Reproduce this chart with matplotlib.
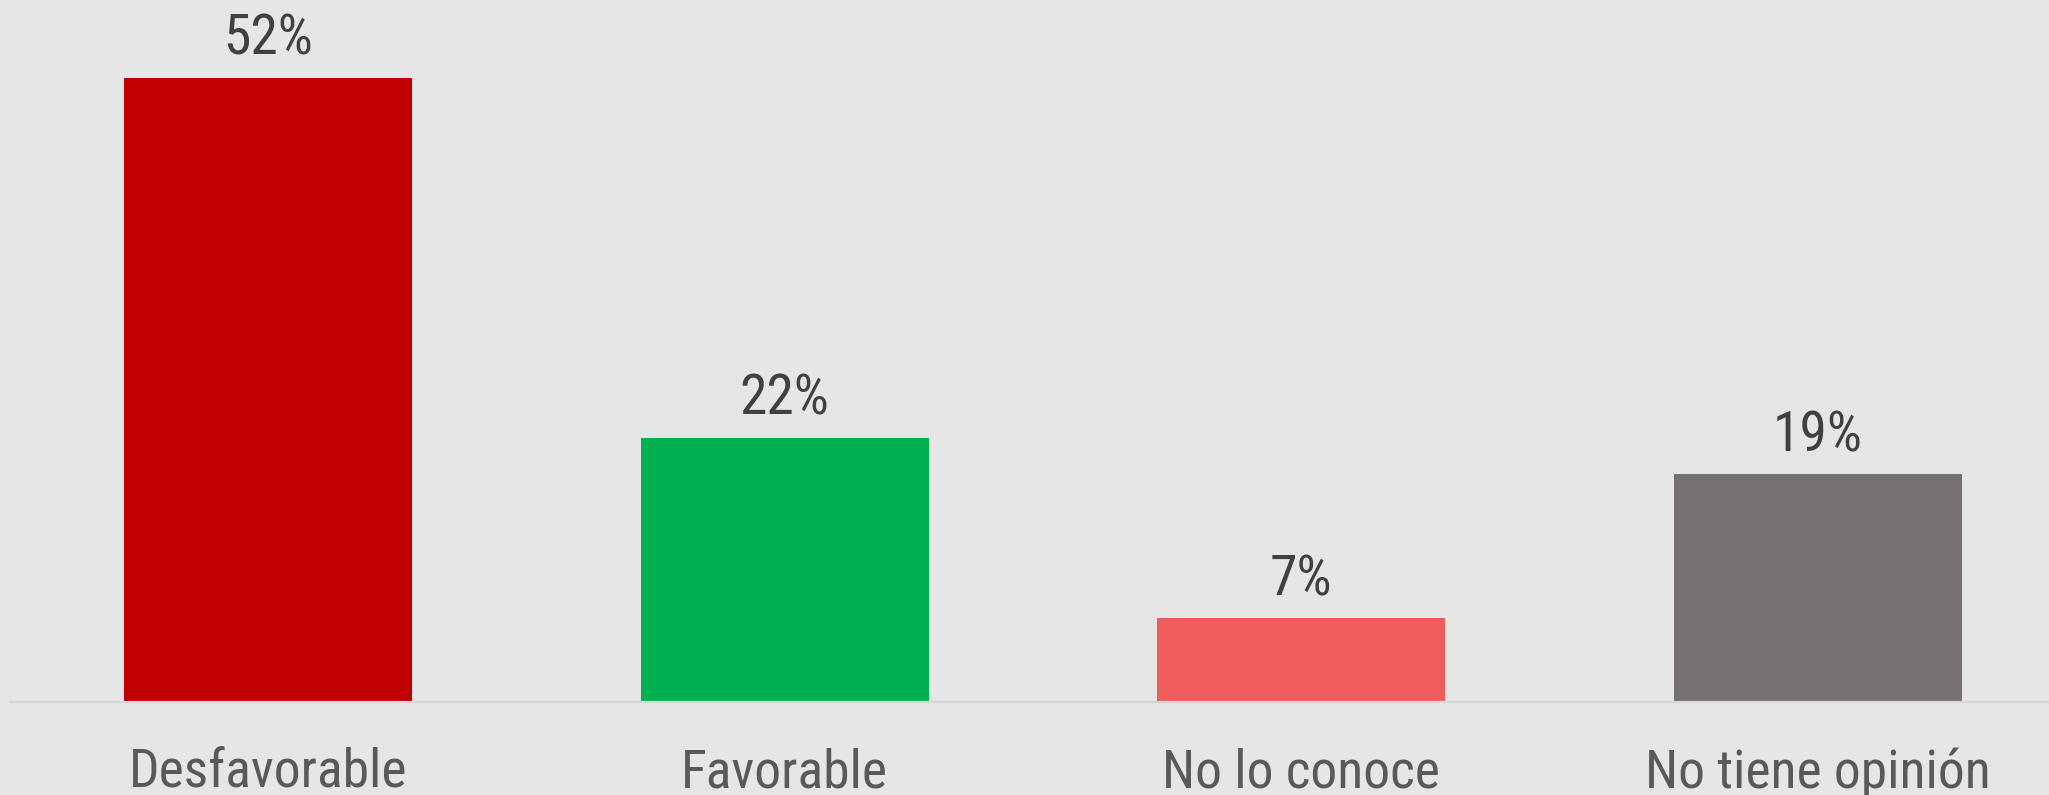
import matplotlib
matplotlib.use("Agg")
import matplotlib.pyplot as plt

# Opinion survey results (%)
categories = ["Desfavorable", "Favorable", "No lo conoce", "No tiene opinión"]
values = [52, 22, 7, 19]
colors = ["#C00000", "#00B050", "#F05C5C", "#767171"]

BG = "#E6E6E6"
FONT = ["Roboto Condensed", "Roboto", "DejaVu Sans"]
DPI = 100

fig = plt.figure(figsize=(20.49, 7.95), dpi=DPI, facecolor=BG)
ax = fig.add_axes([10 / 2049, 93 / 795, 2039 / 2049, 702 / 795])
ax.set_facecolor(BG)

x = list(range(len(categories)))
ax.bar(x, values, width=0.558, color=colors, zorder=2)

ax.set_xlim(-0.5, 3.448)
ax.set_ylim(0, 58.5)

for side in ("top", "left", "right"):
    ax.spines[side].set_visible(False)
ax.spines["bottom"].set_color("#D6D6D6")
ax.spines["bottom"].set_linewidth(1.6)
ax.set_xticks([])
ax.set_yticks([])

px = 72 / DPI  # one pixel in points

for xi, v in zip(x, values):
    ax.annotate(f"{v}%", xy=(xi, v), xytext=(0, 23 * px), textcoords="offset points",
                ha="center", va="baseline", fontsize=40, color="#404040", family=FONT)

for xi, lab in zip(x, categories):
    ax.annotate(lab, xy=(xi, 0), xycoords=("data", "axes fraction"),
                xytext=(0, -86 * px), textcoords="offset points",
                ha="center", va="baseline", fontsize=38.5, color="#595959",
                family=FONT, annotation_clip=False)

fig.savefig("out.png", dpi=DPI, facecolor=BG)
